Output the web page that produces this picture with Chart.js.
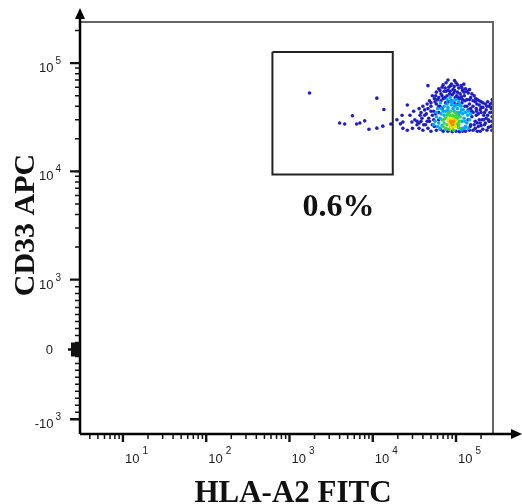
<!DOCTYPE html>
<html>
<head>
<meta charset="utf-8">
<script src="https://cdn.jsdelivr.net/npm/chart.js@4.4.1/dist/chart.umd.min.js"></script>
<style>
  html, body { margin: 0; padding: 0; background: #fff; }
  #wrap { width: 522px; height: 504px; position: relative; }
</style>
</head>
<body>
<div id="wrap"><canvas id="dotPlot"></canvas></div>
<script>
// events as [HLA-A2 FITC, CD33 APC], split by density colour
const bluePts = [
  [62000,58000],[70000,63000],[76000,66000],[82000,60000],[88000,64000],[95000,61000],[100000,66000],[108000,59000],
  [115000,62000],[120000,56000],[130000,58000],[72000,55000],[66000,52000],[58000,54000],[52000,50000],[85000,55000],
  [92000,57000],[104000,54000],[112000,52000],[126000,50000],[140000,53000],[150000,48000],[165000,50000],[180000,46000],
  [200000,44000],[78000,50000],[90000,51000],[98000,48000],[110000,47000],[135000,46000],[55000,47000],[48000,45000],
  [60000,46000],[70000,47000],[45000,42000],[80000,70000],[96000,69000],[68000,60000],[124000,64000],[145000,57000],
  [40000,40000],[42000,37000],[38000,35000],[36000,38000],[44000,34000],[50000,40000],[54000,36000],[58000,42000],
  [64000,40000],[68000,38000],[75000,43000],[82000,44000],[95000,43000],[105000,42000],[118000,43000],[128000,40000],
  [145000,42000],[160000,40000],[175000,38000],[190000,41000],[210000,39000],[230000,37000],[250000,40000],[265000,38000],
  [155000,36000],[185000,34000],[215000,33000],[240000,33000],[52000,33000],[47000,31000],[62000,35000],[170000,44000],
  [225000,42000],[195000,37000],[120000,46000],[88000,45000],
  [57000,50000],[64000,56000],[74000,59000],[86000,62000],[104000,63000],[118000,59000],[135000,55000],[155000,52000],
  [172000,47000],[190000,45000],[210000,43000],[240000,44000],[255000,35000],[245000,30000],[225000,28000],[200000,26500],
  [190000,30000],[180000,28000],[170000,25000],[160000,35000],[150000,38000],[140000,37000],[135000,40000],[145000,46000],
  [128000,45000],[116000,49000],[102000,50000],[94000,53000],[84000,52000],[76000,55000],[68000,50000],[62000,48000],
  [56000,44000],[50000,43000],[46000,38000],[42000,33000],[39000,31000],[36000,28000],[41000,27000],[45000,29000],
  [52000,27000],[54000,30000],[57000,34000],[50000,36000],[66000,45000],[74000,48000],[106000,48000],[96000,56000],
  [80000,56000],[125000,54000],[160000,45000],[178000,42000],[200000,39000],[220000,35000],[235000,40000],[258000,42000],
  [215000,30000],[195000,28000],[176000,36000],[148000,26000],[62000,40000],
  [32000,30000],[34000,27000],[36000,25000],[38000,29000],[40000,24000],[43000,27000],[46000,25000],[48000,29000],
  [50000,23500],[55000,26000],[58000,24000],[62000,30000],[140000,30000],[150000,27000],[160000,24000],[170000,29000],
  [185000,26000],[195000,23500],[205000,30000],[220000,27000],[235000,24000],[250000,29000],[262000,26000],[145000,24000],
  [130000,23500],[120000,23500],[110000,23300],[100000,23500],[90000,23300],[80000,23500],[70000,23500],[65000,24500],
  [175000,33000],[200000,35000],[180000,23500],[210000,24500],[245000,25500],[230000,31000],[165000,27000],[155000,32000],
  [270000,24000],[272000,26500],[270000,29000],[271000,32000],[272000,35000],[270000,39000],[271000,43000],[272000,46000],
  [1740,53000],[11200,47500],[13600,37300],[5700,32700],[4000,28000],[4600,27400],[6400,27400],[7000,28000],
  [8000,29300],[9000,24500],[11200,25100],[13200,26200],[16500,27400],[19500,30000],[21500,27500],[22500,33000],
  [23000,25000],[23000,28600],[26000,41000],[29500,28600],[26000,24000],[34000,29000],[37000,33000],[46000,62000],
  [28000,33000],[31000,36000],[30000,25000]
];
const cyanPts = [
  [60000,38000],[65000,43000],[72000,40000],[78000,46000],[85000,48000],[92000,45000],[100000,46000],[108000,44000],
  [115000,40000],[122000,37000],[130000,35000],[138000,33000],[58000,32000],[62000,28000],[66000,34000],[70000,30000],
  [75000,36000],[80000,39000],[88000,41000],[96000,40000],[104000,38000],[112000,35000],[125000,31000],[135000,28000],
  [140000,25000],[130000,26000],[64000,25000],[68000,26500],[74000,24500],[120000,25000],[118000,29000],[56000,29000],
  [60000,26000],[82000,35000],[95000,36000],[108000,33000],[145000,30000],[150000,34000],[115000,24200],[72000,33000],
  [86000,44000],[100000,41000],[92000,38000],
  [66000,38000],[78000,42000],[90000,43000],[110000,41000],[120000,34000],[128000,29000],[54000,27000],[58000,35000],
  [104000,35000],[140000,36000],[70000,36000],[80000,37000],[126000,25000],[64000,31000],[116000,37000]
];
const greenPts = [
  [75000,31000],[80000,34000],[86000,36000],[92000,33000],[98000,35000],[104000,31000],[110000,29000],[78000,27000],
  [84000,29000],[100000,27000],[106000,25500],[72000,28000],[90000,25000],[95000,29500],[112000,32000],[76000,25000],
  [82000,24500],[88000,32000],[102000,33000],[68000,30000],[94000,24000],[108000,27000],[84000,33000],
  [96000,31500],[78000,33000],[110000,25000],[104000,28500],[70000,26000],[86000,26000]
];
const yellowPts = [
  [80000,30000],[86000,31000],[92000,30500],[96000,28000],[84000,27000],[90000,28000],[98000,26000],[88000,25500],
  [82000,28500],[94000,26800],[100000,29000]
];
const orangePts = [[88000,28000],[91000,27000],[86000,29000],[93000,29000]];

// gate (x from/to, y from/to) and its label
const gateX = [624, 17400];
const gateY = [9360, 127000];
const gateLabel = '0.6%';

// axis ticks and labels
const xTicks = [10, 100, 1000, 10000, 100000];
const xTickExp = ['1', '2', '3', '4', '5'];
const yTicks = [-1000, 0, 1000, 10000, 100000];
const yTickBase = ['-10', '0', '10', '10', '10'];
const yTickExp = ['3', '', '3', '4', '5'];

// biexponential-ish y scale: linear within +-1000, log above
const LIN = 1000;
const K = 105.5 / 68;
function biex(v) {
  if (Math.abs(v) <= LIN) return v / LIN;
  return Math.sign(v) * (1 + K * Math.log10(Math.abs(v) / LIN));
}
function biexInv(t) {
  if (Math.abs(t) <= 1) return t * LIN;
  return Math.sign(t) * LIN * Math.pow(10, (Math.abs(t) - 1) / K);
}

class BiexScale extends Chart.Scale {
  determineDataLimits() {
    this.min = this.options.min;
    this.max = this.options.max;
  }
  buildTicks() {
    return yTicks.map(v => ({ value: v }));
  }
  configure() {
    super.configure();
    this._tMin = biex(this.min);
    this._tRange = biex(this.max) - this._tMin;
  }
  getLabelForValue(v) {
    return String(v);
  }
  getPixelForValue(v) {
    return this.getPixelForDecimal((biex(v) - this._tMin) / this._tRange);
  }
  getValueForPixel(p) {
    return biexInv(this._tMin + this.getDecimalForPixel(p) * this._tRange);
  }
}
BiexScale.id = 'biex';
BiexScale.defaults = {};
Chart.register(BiexScale);

function toXY(pts) {
  return pts.map(p => ({ x: p[0], y: p[1] }));
}

// minor tick values
const xMinor = [];
for (let d = 1; d <= 100000; d *= 10) {
  for (let m = 2; m <= 9; m++) xMinor.push(m * d);
}
const yMinor = [];
for (let m = 1; m <= 9; m++) {
  yMinor.push(m * 10, -m * 10, m * 100, -m * 100, (m + 1) * 1000, (m + 1) * 10000, (m + 1) * 100000);
}

const axisPlugin = {
  id: 'axisPlugin',
  afterDraw(chart) {
    const { ctx, chartArea: a } = chart;
    const x = chart.scales.x;
    const y = chart.scales.y;
    ctx.save();

    // top / right frame
    ctx.strokeStyle = '#666';
    ctx.lineWidth = 2;
    ctx.beginPath();
    ctx.moveTo(a.left, a.top);
    ctx.lineTo(a.right, a.top);
    ctx.lineTo(a.right, a.bottom);
    ctx.stroke();

    // axes with arrows
    ctx.strokeStyle = '#000';
    ctx.lineWidth = 2.5;
    ctx.beginPath();
    ctx.moveTo(a.left, a.bottom);
    ctx.lineTo(a.left, 16);
    ctx.moveTo(a.left, a.bottom);
    ctx.lineTo(514, a.bottom);
    ctx.stroke();
    ctx.fillStyle = '#000';
    ctx.beginPath();
    ctx.moveTo(a.left, 8);
    ctx.lineTo(a.left - 5, 19);
    ctx.lineTo(a.left + 5, 19);
    ctx.closePath();
    ctx.fill();
    ctx.beginPath();
    ctx.moveTo(522, a.bottom);
    ctx.lineTo(511, a.bottom - 5);
    ctx.lineTo(511, a.bottom + 5);
    ctx.closePath();
    ctx.fill();

    // x ticks
    ctx.strokeStyle = '#111';
    ctx.lineWidth = 1.5;
    ctx.beginPath();
    xMinor.forEach(v => {
      const px = x.getPixelForValue(v);
      if (px < a.left + 2 || px > a.right) return;
      ctx.moveTo(px, a.bottom);
      ctx.lineTo(px, a.bottom + 5);
    });
    ctx.stroke();
    ctx.lineWidth = 2.4;
    ctx.beginPath();
    xTicks.forEach(v => {
      const px = x.getPixelForValue(v);
      ctx.moveTo(px, a.bottom);
      ctx.lineTo(px, a.bottom + 8);
    });
    ctx.stroke();

    // y ticks
    ctx.lineWidth = 1.5;
    ctx.beginPath();
    yMinor.forEach(v => {
      const py = y.getPixelForValue(v);
      if (py < a.top || py > a.bottom) return;
      const len = Math.abs(v) < 100 ? 9 : 5;
      ctx.moveTo(a.left, py);
      ctx.lineTo(a.left - len, py);
    });
    ctx.stroke();
    ctx.lineWidth = 2.4;
    ctx.beginPath();
    yTicks.forEach(v => {
      const py = y.getPixelForValue(v);
      ctx.moveTo(a.left, py);
      ctx.lineTo(a.left - (v === 0 ? 12 : 10), py);
    });
    ctx.stroke();

    // tick labels
    ctx.fillStyle = '#222';
    ctx.textBaseline = 'alphabetic';
    xTicks.forEach((v, i) => {
      const px = x.getPixelForValue(v);
      ctx.font = '13px "Liberation Sans", Arial, sans-serif';
      ctx.textAlign = 'left';
      ctx.fillText('10', px + 2, a.bottom + 29);
      const w = ctx.measureText('10').width;
      ctx.font = '10px "Liberation Sans", Arial, sans-serif';
      ctx.fillText(xTickExp[i], px + 5 + w, a.bottom + 20);
    });
    yTicks.forEach((v, i) => {
      const py = y.getPixelForValue(v);
      ctx.textAlign = 'right';
      if (yTickExp[i] === '') {
        ctx.font = '13px "Liberation Sans", Arial, sans-serif';
        ctx.fillText(yTickBase[i], 53, py + 5);
        return;
      }
      ctx.font = '10px "Liberation Sans", Arial, sans-serif';
      ctx.fillText(yTickExp[i], 61, py + 1);
      const w = ctx.measureText(yTickExp[i]).width;
      ctx.font = '13px "Liberation Sans", Arial, sans-serif';
      ctx.fillText(yTickBase[i], 59 - w, py + 9);
    });

    // axis titles
    ctx.fillStyle = '#111';
    ctx.font = 'bold 31px "Liberation Serif", "Times New Roman", serif';
    ctx.textAlign = 'center';
    ctx.fillText('HLA-A2 FITC', 293, 502);
    ctx.save();
    ctx.translate(34, 225);
    ctx.rotate(-Math.PI / 2);
    ctx.font = 'bold 30px "Liberation Serif", "Times New Roman", serif';
    ctx.fillText('CD33 APC', 0, 0);
    ctx.restore();

    // gate percentage
    const gx = (x.getPixelForValue(gateX[0]) + x.getPixelForValue(gateX[1])) / 2 + 6;
    const gy = y.getPixelForValue(gateY[0]) + 41;
    ctx.font = 'bold 32px "Liberation Serif", "Times New Roman", serif';
    ctx.fillText(gateLabel, gx, gy);

    ctx.restore();
  }
};

function renderDotPlot() {
  const ctx = document.getElementById('dotPlot').getContext('2d');

  const dot = (pts, color, order) => ({
    data: toXY(pts),
    pointRadius: 1.8,
    pointBorderWidth: 0,
    pointBackgroundColor: color,
    order: order
  });

  const gateData = [
    { x: gateX[0], y: gateY[1] },
    { x: gateX[1], y: gateY[1] },
    { x: gateX[1], y: gateY[0] },
    { x: gateX[0], y: gateY[0] },
    { x: gateX[0], y: gateY[1] }
  ];

  new Chart(ctx, {
    type: 'scatter',
    data: {
      datasets: [
        {
          data: gateData,
          showLine: true,
          borderColor: '#222',
          borderWidth: 2,
          borderJoinStyle: 'miter',
          pointRadius: 0,
          order: 0
        },
        dot(orangePts, 'rgb(255,130,0)', 1),
        dot(yellowPts, 'rgb(235,230,0)', 2),
        dot(greenPts, 'rgb(60,215,60)', 3),
        dot(cyanPts, 'rgb(0,170,250)', 4),
        dot(bluePts, 'rgb(30,30,200)', 5)
      ]
    },
    options: {
      responsive: true,
      maintainAspectRatio: false,
      animation: false,
      layout: { padding: { left: 80, right: 29, top: 22, bottom: 70 } },
      plugins: { legend: { display: false }, tooltip: { enabled: false } },
      scales: {
        x: { type: 'logarithmic', min: 3.05, max: 278000, display: false },
        y: { type: 'biex', min: -1370, max: 240000, display: false }
      }
    },
    plugins: [axisPlugin]
  });
}

renderDotPlot();
</script>
</body>
</html>
